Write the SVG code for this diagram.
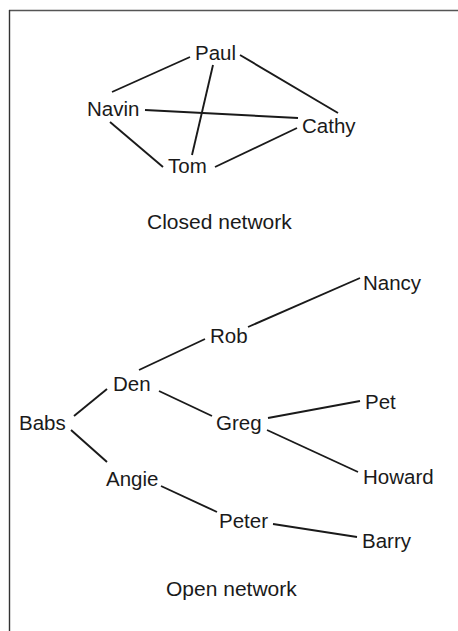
<svg xmlns="http://www.w3.org/2000/svg" width="458" height="631" viewBox="0 0 458 631">
<style>
.lbl{font-family:"Liberation Sans",Arial,sans-serif;font-size:20.5px;fill:#1a1a1a}
.cap{font-family:"Liberation Sans",Arial,sans-serif;font-size:21px;fill:#1a1a1a}
.edge{stroke:#1a1a1a;stroke-width:1.9;fill:none;stroke-linecap:butt}
</style>
<rect width="458" height="631" fill="#fff"/>
<g id="frame">
<line x1="9" y1="10.5" x2="458" y2="10.5" stroke="#555" stroke-width="1.6"/>
<line x1="9.5" y1="10" x2="9.5" y2="631" stroke="#333" stroke-width="1.4"/>
</g>
<g id="connectors">
<line class="edge" x1="112" y1="92" x2="190" y2="57"/>
<line class="edge" x1="240" y1="55" x2="338" y2="113"/>
<line class="edge" x1="213" y1="65" x2="192" y2="155"/>
<line class="edge" x1="145" y1="110" x2="298" y2="118"/>
<line class="edge" x1="110" y1="122" x2="163" y2="167"/>
<line class="edge" x1="215" y1="167" x2="297" y2="128"/>
<line class="edge" x1="139" y1="370" x2="205" y2="339"/>
<line class="edge" x1="248" y1="327" x2="360" y2="278"/>
<line class="edge" x1="159" y1="391" x2="212" y2="416"/>
<line class="edge" x1="74" y1="416" x2="107" y2="389"/>
<line class="edge" x1="268" y1="418" x2="360" y2="401"/>
<line class="edge" x1="267" y1="430" x2="358" y2="472"/>
<line class="edge" x1="71" y1="430" x2="107" y2="462"/>
<line class="edge" x1="161" y1="486" x2="217" y2="512"/>
<line class="edge" x1="273" y1="524" x2="357" y2="537"/>
</g>
<g id="paul"><text class="lbl" x="195" y="60">Paul</text></g>
<g id="navin"><text class="lbl" x="87" y="116">Navin</text></g>
<g id="cathy"><text class="lbl" x="302" y="133">Cathy</text></g>
<g id="tom"><text class="lbl" x="168" y="173">Tom</text></g>
<g id="closed-caption"><text class="cap" x="147" y="229">Closed network</text></g>
<g id="nancy"><text class="lbl" x="363" y="290">Nancy</text></g>
<g id="rob"><text class="lbl" x="210" y="343">Rob</text></g>
<g id="den"><text class="lbl" x="113" y="391">Den</text></g>
<g id="babs"><text class="lbl" x="19" y="430">Babs</text></g>
<g id="greg"><text class="lbl" x="216" y="430">Greg</text></g>
<g id="pet"><text class="lbl" x="365" y="409">Pet</text></g>
<g id="howard"><text class="lbl" x="363" y="484">Howard</text></g>
<g id="angie"><text class="lbl" x="106" y="486">Angie</text></g>
<g id="peter"><text class="lbl" x="219" y="528">Peter</text></g>
<g id="barry"><text class="lbl" x="362" y="548">Barry</text></g>
<g id="open-caption"><text class="cap" x="166" y="596">Open network</text></g>
</svg>
